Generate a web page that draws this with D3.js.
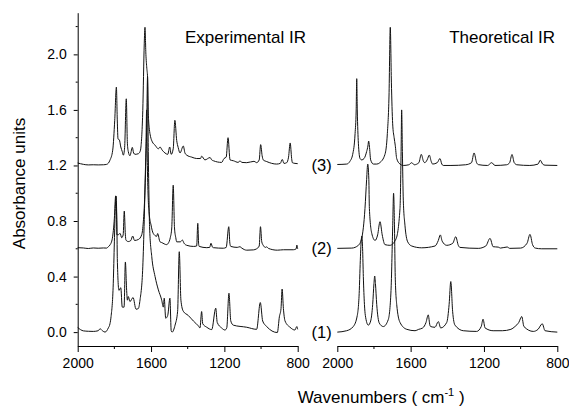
<!DOCTYPE html>
<html><head><meta charset="utf-8">
<script src="https://cdn.jsdelivr.net/npm/d3@7"></script>
<style>body{margin:0;background:#fff}svg{display:block}text{font-family:Arial,"Liberation Sans",sans-serif;fill:#000}</style>
</head><body><svg id="c" width="569" height="406"></svg>
<script>
const xTicks=[2000,1600,1200,800];
const xMinor=[1800,1400,1000];
const yTicks=[0,0.4,0.8,1.2,1.6,2.0];
const yMinor=[0.2,0.6,1.0,1.4,1.8,2.2];
const offsets=[0,0.6,1.2];
const traceLabels=["(1)","(2)","(3)"];
const panelTitles=["Experimental IR","Theoretical IR"];

// Experimental spectra [wavenumber, absorbance as plotted]
const exp1=[[2000,0.033],[1969,0.009],[1942,0.006],[1915,0.005],[1888,0.01],[1878,0.024],[1865,0.01],[1851,0.0],[1833,0.03],[1824,0.06],[1818,0.112],[1806,0.352],[1800,0.65],[1795,0.89],[1791,0.98],[1786,0.75],[1784,0.53],[1775,0.30],[1765,0.32],[1757,0.18],[1747,0.18],[1740,0.505],[1733,0.3],[1729,0.23],[1724,0.256],[1715,0.22],[1698,0.249],[1682,0.165],[1669,0.17],[1660,0.232],[1645,0.47],[1637,0.81],[1631,1.15],[1624,1.45],[1619,1.84],[1615,1.3],[1611,0.95],[1608,0.76],[1596,0.543],[1578,0.40],[1560,0.304],[1542,0.232],[1533,0.18],[1528,0.244],[1520,0.10],[1509,0.12],[1497,0.244],[1490,0.01],[1485,0.0],[1469,0.05],[1455,0.15],[1446,0.579],[1437,0.23],[1424,0.15],[1397,0.12],[1369,0.08],[1342,0.045],[1333,0.03],[1324,0.148],[1318,0.06],[1296,0.035],[1269,0.018],[1247,0.172],[1239,0.07],[1215,0.03],[1197,0.015],[1187,0.03],[1175,0.28],[1165,0.08],[1151,0.05],[1078,0.035],[1024,0.02],[1004,0.213],[991,0.08],[969,0.04],[911,-0.003],[900,0.11],[891,0.17],[885,0.31],[878,0.17],[869,0.08],[842,0.035],[815,0.015],[805,0.04],[800,0.02]];
const exp2=[[2000,0.608],[1969,0.606],[1942,0.602],[1915,0.606],[1888,0.604],[1860,0.606],[1842,0.605],[1833,0.615],[1824,0.627],[1811,0.675],[1800,0.82],[1793,0.981],[1788,0.85],[1786,0.70],[1780,0.70],[1769,0.711],[1760,0.68],[1752,0.70],[1746,0.871],[1740,0.70],[1737,0.663],[1724,0.652],[1710,0.66],[1700,0.692],[1690,0.66],[1669,0.667],[1651,0.70],[1642,0.795],[1634,0.986],[1629,1.2],[1624,1.6],[1620,1.2],[1615,0.95],[1611,0.866],[1600,0.771],[1588,0.711],[1569,0.69],[1564,0.71],[1551,0.65],[1542,0.645],[1515,0.63],[1506,0.64],[1495,0.68],[1487,0.75],[1479,1.058],[1472,0.75],[1465,0.68],[1460,0.65],[1440,0.65],[1429,0.663],[1420,0.64],[1405,0.625],[1369,0.617],[1351,0.62],[1345,0.783],[1340,0.63],[1337,0.617],[1296,0.608],[1280,0.61],[1273,0.64],[1265,0.612],[1260,0.608],[1206,0.604],[1190,0.61],[1176,0.759],[1170,0.64],[1165,0.617],[1130,0.61],[1115,0.615],[1105,0.605],[1078,0.59],[1042,0.592],[1024,0.6],[1010,0.62],[1003,0.759],[996,0.65],[988,0.625],[976,0.61],[969,0.614],[960,0.603],[911,0.59],[878,0.593],[824,0.593],[808,0.6],[805,0.627],[800,0.6]];
const exp3=[[2000,1.218],[1969,1.208],[1942,1.204],[1915,1.205],[1888,1.204],[1860,1.205],[1842,1.208],[1824,1.238],[1809,1.31],[1798,1.525],[1789,1.764],[1784,1.52],[1780,1.39],[1773,1.385],[1765,1.333],[1757,1.3],[1751,1.274],[1744,1.33],[1735,1.68],[1729,1.36],[1724,1.3],[1715,1.27],[1702,1.33],[1695,1.29],[1687,1.28],[1669,1.285],[1660,1.30],[1655,1.333],[1645,1.597],[1637,2.076],[1633,2.195],[1628,2.0],[1623,1.9],[1619,1.836],[1616,1.62],[1613,1.52],[1609,1.46],[1603,1.41],[1593,1.37],[1578,1.346],[1560,1.32],[1551,1.333],[1539,1.31],[1524,1.29],[1509,1.28],[1498,1.333],[1490,1.28],[1479,1.32],[1470,1.525],[1460,1.38],[1452,1.33],[1442,1.29],[1424,1.34],[1415,1.29],[1405,1.274],[1378,1.26],[1351,1.25],[1330,1.25],[1324,1.267],[1306,1.24],[1278,1.257],[1269,1.24],[1260,1.234],[1215,1.222],[1202,1.25],[1190,1.26],[1180,1.40],[1169,1.24],[1151,1.234],[1124,1.222],[1115,1.234],[1105,1.222],[1078,1.22],[1038,1.23],[1024,1.22],[1010,1.24],[1002,1.35],[994,1.27],[988,1.24],[969,1.228],[915,1.21],[895,1.215],[884,1.243],[875,1.215],[860,1.22],[850,1.26],[841,1.362],[833,1.25],[829,1.22],[815,1.215],[800,1.213]];

// Theoretical spectra
const theo1=[[2000,0.0],[1949,0.01],[1913,0.04],[1891,0.12],[1880,0.3],[1876,0.46],[1870,0.65],[1866,0.692],[1862,0.6],[1858,0.40],[1852,0.2],[1847,0.12],[1831,0.05],[1818,0.08],[1807,0.2],[1800,0.35],[1796,0.404],[1792,0.35],[1785,0.2],[1771,0.065],[1749,0.04],[1722,0.09],[1707,0.3],[1698,0.75],[1693,1.0],[1688,0.75],[1684,0.40],[1676,0.2],[1658,0.07],[1621,0.02],[1576,0.01],[1556,0.02],[1534,0.03],[1516,0.07],[1504,0.124],[1495,0.05],[1491,0.04],[1467,0.035],[1449,0.076],[1436,0.03],[1403,0.07],[1390,0.2],[1381,0.364],[1371,0.15],[1358,0.05],[1313,0.01],[1240,0.005],[1215,0.04],[1205,0.093],[1194,0.03],[1150,0.01],[1100,0.01],[1053,0.02],[1031,0.04],[1010,0.07],[994,0.112],[982,0.04],[931,0.005],[905,0.02],[882,0.06],[867,0.01],[800,0.0]];
const theo2=[[2000,0.603],[1921,0.605],[1885,0.625],[1867,0.675],[1849,0.89],[1840,1.1],[1834,1.21],[1828,1.1],[1825,0.89],[1812,0.711],[1794,0.66],[1780,0.70],[1767,0.795],[1755,0.70],[1740,0.63],[1713,0.625],[1680,0.67],[1658,0.89],[1652,1.3],[1649,1.6],[1645,1.3],[1640,0.95],[1631,0.77],[1616,0.65],[1594,0.62],[1540,0.607],[1467,0.62],[1449,0.66],[1438,0.70],[1428,0.655],[1403,0.625],[1370,0.64],[1354,0.687],[1340,0.625],[1331,0.61],[1231,0.603],[1190,0.62],[1167,0.675],[1150,0.615],[1122,0.612],[1110,0.605],[1073,0.613],[1060,0.603],[1000,0.605],[965,0.64],[949,0.704],[935,0.63],[920,0.605],[885,0.60],[800,0.60]];
const theo3=[[2000,1.207],[1949,1.21],[1931,1.23],[1916,1.28],[1903,1.43],[1897,1.6],[1894,1.825],[1891,1.6],[1885,1.36],[1876,1.25],[1867,1.24],[1854,1.25],[1840,1.3],[1833,1.34],[1829,1.376],[1825,1.34],[1818,1.24],[1803,1.21],[1785,1.21],[1768,1.22],[1740,1.28],[1727,1.43],[1718,1.7],[1711,2.195],[1705,1.8],[1698,1.5],[1690,1.40],[1684,1.346],[1676,1.25],[1658,1.21],[1640,1.2],[1610,1.205],[1594,1.22],[1580,1.205],[1555,1.22],[1542,1.28],[1530,1.23],[1523,1.22],[1510,1.24],[1498,1.275],[1488,1.23],[1480,1.21],[1455,1.22],[1440,1.25],[1430,1.21],[1422,1.20],[1380,1.2],[1300,1.205],[1268,1.22],[1254,1.29],[1240,1.22],[1231,1.206],[1180,1.2],[1158,1.22],[1140,1.2],[1076,1.205],[1060,1.22],[1047,1.279],[1035,1.22],[1020,1.205],[950,1.2],[905,1.21],[893,1.238],[880,1.21],[867,1.202],[800,1.2]];

const svg=d3.select("#c");
const y=d3.scaleLinear().domain([-0.1,2.3]).range([346,12.7]);
const panelX=[77.7,337.3], pw=220;
const spectra=[[exp1,exp2,exp3],[theo1,theo2,theo3]];
const xs=panelX.map(x0=>d3.scaleLinear().domain([2000,800]).range([x0,x0+pw]));

xs.forEach((x,i)=>{
  const g=svg.append("g").attr("transform","translate(0,346)");
  g.call(d3.axisBottom(x).tickValues(xTicks).tickFormat(d3.format("d")).tickSize(6).tickSizeOuter(0).tickPadding(6));
  g.append("g").selectAll("line").data(xMinor).join("line")
    .attr("x1",d=>x(d)).attr("x2",d=>x(d)).attr("y1",0).attr("y2",3).attr("stroke","#000");
  g.selectAll("text").attr("font-size",14).attr("font-family","Arial, 'Liberation Sans', sans-serif").attr("fill","#000");
  g.selectAll(".domain,.tick line").attr("stroke","#000");
  const line=d3.line().x(d=>x(d[0])).y(d=>y(d[1])).curve(d3.curveMonotoneX);
  spectra[i].forEach(s=>svg.append("path").datum(s).attr("d",line).attr("fill","none").attr("stroke","#111").attr("stroke-width",1).attr("stroke-linejoin","round"));
});

const gy=svg.append("g").attr("transform","translate(77.7,0)");
gy.call(d3.axisLeft(y).tickValues(yTicks).tickFormat(d3.format(".1f")).tickSize(4).tickSizeOuter(0).tickPadding(7));
gy.append("g").selectAll("line").data(yMinor).join("line")
  .attr("x1",0).attr("x2",-2).attr("y1",d=>y(d)).attr("y2",d=>y(d)).attr("stroke","#000");
gy.selectAll("text").attr("font-size",14).attr("font-family","Arial, 'Liberation Sans', sans-serif").attr("fill","#000");
gy.selectAll(".domain,.tick line").attr("stroke","#000");

svg.append("text").attr("x",185).attr("y",42.5).attr("font-size",17).text(panelTitles[0]);
svg.append("text").attr("x",555).attr("y",42.5).attr("font-size",17).attr("text-anchor","end").text(panelTitles[1]);
offsets.forEach((o,i)=>svg.append("text").attr("x",311.5).attr("y",y(o)+5.5).attr("font-size",16.5).text(traceLabels[i]));

const xt=svg.append("text").attr("x",297.7).attr("y",402.5).attr("font-size",17);
xt.append("tspan").text("Wavenumbers ( cm");
xt.append("tspan").attr("dy",-7).attr("font-size",11).text("-1");
xt.append("tspan").attr("dy",7).text(" )");

svg.append("text").attr("transform","translate(25,183.5) rotate(-90)").attr("text-anchor","middle").attr("font-size",17).text("Absorbance units");
</script></body></html>
